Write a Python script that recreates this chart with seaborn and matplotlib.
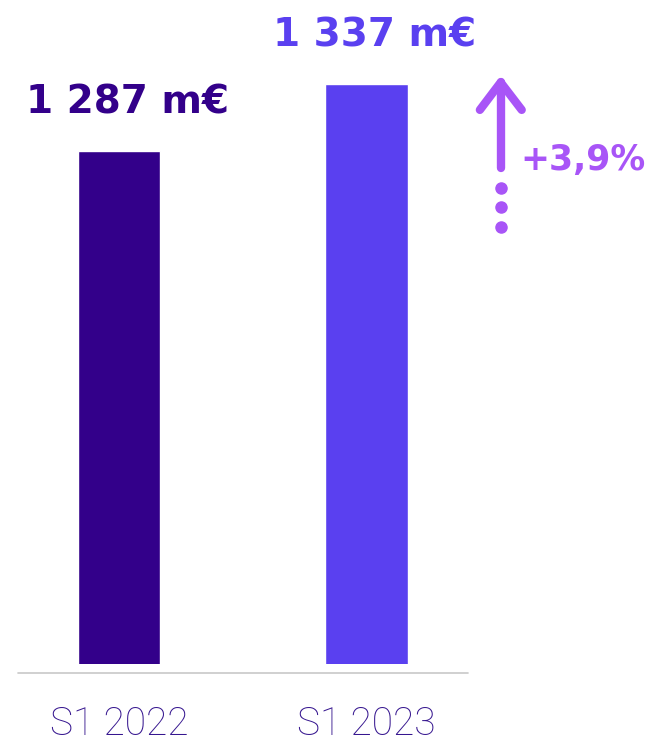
import matplotlib
matplotlib.use('Agg')
import matplotlib.pyplot as plt
import seaborn as sns
from matplotlib.lines import Line2D

# data
periods = ['S1 2022', 'S1 2023']
values = [1287, 1337]
value_labels = ['1 287 m€', '1 337 m€']
growth_label = '+3,9%'

bar_colors = ['#33008A', '#5A40F0']
accent = '#A855F7'
tick_color = '#36168F'

sns.set_theme(style='white')
plt.rcParams['font.family'] = ['Roboto', 'DejaVu Sans']

fig = plt.figure(figsize=(6.54, 7.43), dpi=100)
# axes spans px x 18..468, y 0..664 (from top)
ax = fig.add_axes([18 / 654, 1 - 664 / 743, 450 / 654, 664 / 743])

sns.barplot(x=periods, y=values, hue=periods, palette=bar_colors,
            width=0.333, legend=False, saturation=1, ax=ax)

ax.set_xlim(-0.408, 1.41)
ax.set_ylim(904, 1399.5)
sns.despine(ax=ax, left=True, bottom=True)
ax.set_yticks([])
ax.set_xlabel('')
ax.set_ylabel('')
ax.tick_params(axis='x', length=0, pad=30, labelsize=28, labelcolor=tick_color)
for lab in ax.get_xticklabels():
    lab.set_fontweight('light')

# value labels above bars
for i, (v, txt) in enumerate(zip(values, value_labels)):
    ax.annotate(txt, xy=(i, v), xytext=(6, 27), textcoords='offset points',
                ha='center', va='baseline', fontsize=28, fontweight='bold',
                family='DejaVu Sans', color=bar_colors[i])

# baseline below the bars
fig.add_artist(Line2D([18 / 654, 468 / 654], [1 - 673 / 743, 1 - 673 / 743],
                      color='#C8C8C8', lw=1.2))

# growth arrow
ax_x = 1.542
ax.plot([ax_x, ax_x], [1274, values[1] + 1], color=accent, lw=6,
        solid_capstyle='round', clip_on=False)
ax.plot([1.458, ax_x, 1.627], [1317.5, values[1] + 1, 1317.5], color=accent,
        lw=6, solid_capstyle='round', solid_joinstyle='round', clip_on=False)
ax.plot([ax_x] * 3, [1259, 1245, 1230], 'o', color=accent, ms=8, clip_on=False)
ax.text(1.62, 1280, growth_label, ha='left', va='center', fontsize=25,
        fontweight='bold', family='DejaVu Sans', color=accent, clip_on=False)

fig.savefig('out.png', dpi=100)
